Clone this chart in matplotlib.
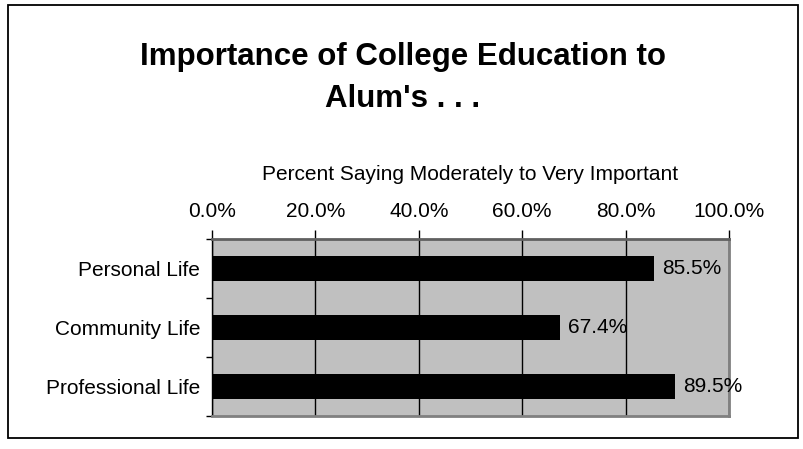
import matplotlib
matplotlib.use("Agg")
import matplotlib.pyplot as plt
from matplotlib.patches import Rectangle

categories = ["Personal Life", "Community Life", "Professional Life"]
values = [85.5, 67.4, 89.5]
xticks = [0, 20, 40, 60, 80, 100]
xticklabels = ["0.0%", "20.0%", "40.0%", "60.0%", "80.0%", "100.0%"]
title_lines = ["Importance of College Education to", "Alum's . . ."]
xlabel = "Percent Saying Moderately to Very Important"

plt.rcParams['font.family'] = ['Liberation Sans', 'DejaVu Sans']

W, H = 804, 449
fig = plt.figure(figsize=(W/100, H/100), dpi=100)
fig.patch.set_facecolor('white')

# outer border
fig.add_artist(Rectangle((8/W, 1-438/H), (798-8)/W, (438-5)/H, transform=fig.transFigure,
                         fill=False, edgecolor='black', linewidth=1.3))

left, right, top, bottom = 212, 729, 239, 416
ax = fig.add_axes([left/W, 1-bottom/H, (right-left)/W, (bottom-top)/H])
ax.set_facecolor('#C0C0C0')

n = len(categories)
ypos = list(range(n))
ax.barh(ypos, values, height=0.42, color='black', zorder=3)
ax.set_xlim(0, 100)
ax.set_ylim(n-0.5, -0.5)
ax.xaxis.tick_top()
ax.set_xticks(xticks)
ax.set_xticklabels(xticklabels, fontsize=15)
ax.tick_params(axis='x', length=6.5, width=1, pad=6.5, direction='out')
ax.grid(axis='x', color='black', linewidth=1, zorder=1)
ax.set_yticks(ypos)
ax.set_yticklabels(categories, fontsize=15)
ax.set_yticks([i - 0.5 for i in range(n+1)], minor=True)
ax.tick_params(axis='y', which='major', length=0, pad=8.6)
ax.tick_params(axis='y', which='minor', length=4.3, width=1, direction='out')

for s in ['right', 'bottom']:
    ax.spines[s].set_color('#808080')
    ax.spines[s].set_linewidth(2)
ax.spines['top'].set_color('#606060')
ax.spines['top'].set_linewidth(2)
ax.spines['left'].set_color('black')
ax.spines['left'].set_linewidth(1)

for y, v in zip(ypos, values):
    ax.text(v + 1.55, y, f"{v:.1f}%", va='center', ha='left', fontsize=15, zorder=4)

cx = (left + right) / 2 / W
fig.text(cx, 1-180/H, xlabel, ha='center', va='baseline', fontsize=15)

tx = 403 / W
fig.text(tx, 1-65/H, title_lines[0], ha='center', va='baseline', fontsize=22.5, fontweight='bold')
fig.text(tx, 1-107/H, title_lines[1], ha='center', va='baseline', fontsize=22.5, fontweight='bold')

fig.savefig("out.png", dpi=100)
